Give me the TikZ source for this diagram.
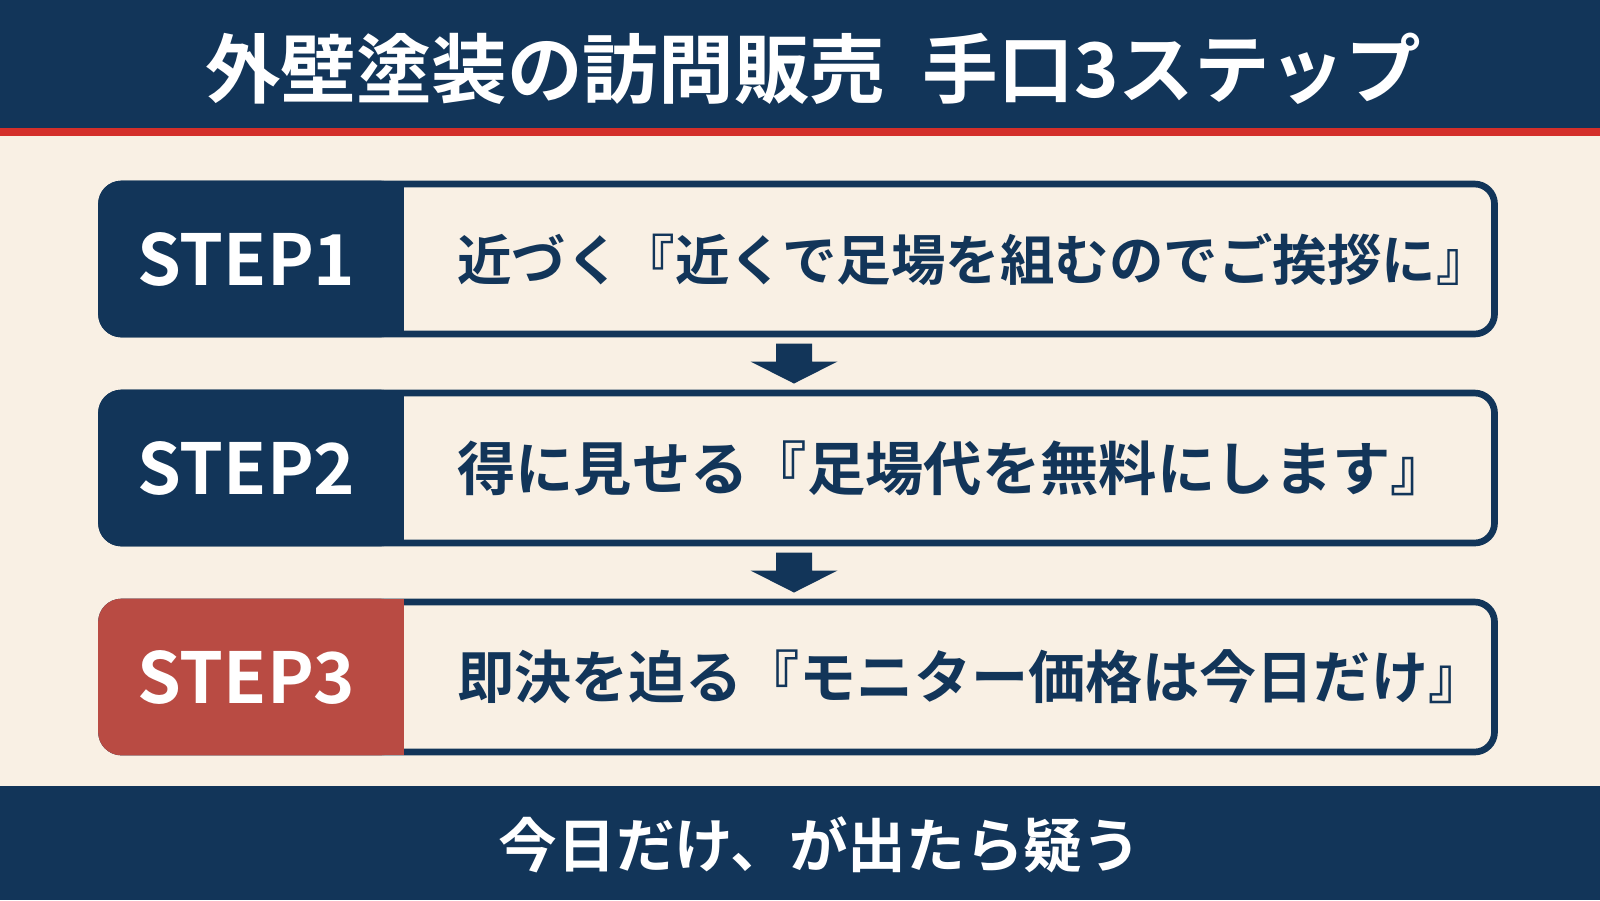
\documentclass[tikz,border=0pt]{standalone}
\usepackage{fontspec}
\setmainfont{Noto Sans CJK JP}[BoldFont={Noto Sans CJK JP Bold}]
\usetikzlibrary{calc}
\definecolor{PanelNavy}{HTML}{123559}
\definecolor{PanelRed}{HTML}{B94B43}
\definecolor{AlertRed}{HTML}{D42F2A}
\definecolor{PaperCream}{HTML}{F9F0E4}
\tikzset{
  stepbox/.style={draw=PanelNavy,line width=1.9pt,rounded corners=2mm,fill=PaperCream,
    minimum width=139.3mm,minimum height=15mm,inner sep=0pt,outer sep=0pt},
  steplabel/.style={text=white,font=\bfseries\fontsize{20}{24}\selectfont,inner sep=0pt},
  steptext/.style={text=PanelNavy,anchor=west,inner sep=0pt},
  banner/.style={text=white,font=\bfseries\fontsize{21.5}{25}\selectfont,inner sep=0pt}
}
\begin{document}
\begin{tikzpicture}[x=1mm,y=-1mm]
  \fill[PaperCream] (0,0) rectangle (160,90);
  \useasboundingbox (0,0) rectangle (160,90);
  % title band
  \fill[PanelNavy] (0,0) rectangle (160,12.8);
  \fill[AlertRed] (0,12.8) rectangle (160,13.6);
  \node[banner] (title) at (81.3,6.9) {外壁塗装の訪問販売\hspace{0.5em}手口3ステップ};
  % steps
  \foreach \i/\y/\col/\sz/\txt in {1/25.9/PanelNavy/15.5/{近づく『近くで足場を組むのでご挨拶に』},
      2/46.8/PanelNavy/16.6/{得に見せる『足場代を無料にします』},
      3/67.7/PanelRed/16.25/{即決を迫る『モニター価格は今日だけ』}}{
    \node[stepbox] (s\i) at (79.8,\y) {};
    \filldraw[\col,line width=1.9pt,rounded corners=2mm] (s\i.north west) rectangle ($(s\i.south west)+(29.9,0)$);
    \filldraw[\col,line width=1.9pt] ($(s\i.north west)+(15,0)$) rectangle ($(s\i.south west)+(29.9,0)$);
    \node[steplabel] (l\i) at ($(s\i.west)+(14.5,0)$) {STEP\i};
    \node[steptext,font=\bfseries\fontsize{\sz}{18}\selectfont] (t\i) at ($(s\i.west)+(35.5,0)$) {\txt};
  }
  % block arrows
  \foreach \a/\b in {s1/s2,s2/s3}{
    \coordinate (m) at ($(\a.south)!0.5!(\b.north)+(-0.4,0)$);
    \fill[PanelNavy,shift={(m)}] (-1.8,-2) -- (1.8,-2) -- (1.8,-0.2) -- (4.35,-0.2)
      -- (0,2) -- (-4.35,-0.2) -- (-1.8,-0.2) -- cycle;
  }
  % footer band
  \fill[PanelNavy] (0,78.6) rectangle (160,90);
  \node[banner,font=\bfseries\fontsize{16.7}{19}\selectfont] (footer) at (82,84.5) {今日だけ、が出たら疑う};
\end{tikzpicture}
\end{document}
